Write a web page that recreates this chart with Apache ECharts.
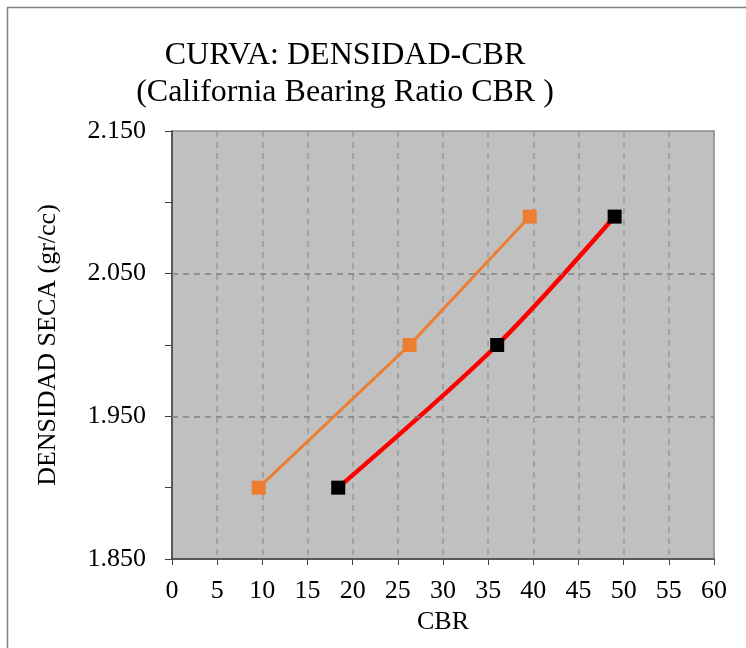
<!DOCTYPE html>
<html>
<head>
<meta charset="utf-8">
<script src="https://cdn.jsdelivr.net/npm/echarts@6/dist/echarts.min.js"></script>
<style>html,body{margin:0;padding:0;background:#fff;}#c{width:746px;height:648px;}</style>
</head>
<body>
<div id="c"></div>
<script>
const titleLines = ['CURVA: DENSIDAD-CBR', '(California Bearing Ratio CBR )'];
const xName = 'CBR';
const yName = 'DENSIDAD SECA (gr/cc)';
const xTickLabels = ['0','5','10','15','20','25','30','35','40','45','50','55','60'];
const yTickLabels = ['1.850','1.950','2.050','2.150'];
const yGridValues = [1.95, 2.05];
const orangeCBR = [9.6, 26.3, 39.6];
const orangeDens = [1.900, 2.000, 2.090];
const blackCBR = [18.4, 36.0, 49.0];
const blackDens = [1.900, 2.000, 2.090];

const font = 'Liberation Serif, Times New Roman, serif';
const chart = echarts.init(document.getElementById('c'));
chart.setOption({
  animation: false,
  backgroundColor: '#ffffff',
  title: {
    text: titleLines.join('\n'),
    left: 340, top: 32, textAlign: 'center',
    textStyle: {fontFamily: font, fontSize: 32, fontWeight: 'normal', color: '#000', lineHeight: 37}
  },
  graphic: [{
    type: 'rect', silent: true, z: -1,
    shape: {x: 7.5, y: 7.5, width: 800, height: 800},
    style: {fill: 'none', stroke: '#7f7f7f', lineWidth: 1.5}
  }],
  grid: {left: 172, right: 32, top: 131, bottom: 89, show: true, backgroundColor: '#c0c0c0', borderColor: '#8c8c8c', borderWidth: 1.5},
  xAxis: {
    type: 'value', min: 0, max: 60, interval: 5,
    name: xName, nameLocation: 'middle', nameGap: 48,
    nameTextStyle: {fontFamily: font, fontSize: 26, color: '#000'},
    axisLine: {show: true, onZero: false, lineStyle: {color: '#404040', width: 1.5}},
    axisTick: {show: true, length: 6, lineStyle: {color: '#404040'}},
    axisLabel: {fontFamily: font, fontSize: 26, color: '#000', margin: 19,
      formatter: v => xTickLabels[Math.round(v/5)]},
    splitLine: {show: true, lineStyle: {color: '#999999', type: [6, 5], width: 1.5}}
  },
  yAxis: {
    type: 'value', min: 1.85, max: 2.15, interval: 0.05,
    name: yName, nameLocation: 'middle', nameGap: 111,
    nameTextStyle: {fontFamily: font, fontSize: 26, color: '#000'},
    axisLine: {show: true, onZero: false, lineStyle: {color: '#404040', width: 1.5}},
    axisTick: {show: true, length: 7, lineStyle: {color: '#404040'}},
    axisLabel: {fontFamily: font, fontSize: 26, color: '#000', margin: 26,
      formatter: v => { const s = v.toFixed(3); return yTickLabels.includes(s) ? s : ''; }},
    splitLine: {show: false}
  },
  series: [
    {
      type: 'line', name: 'orange',
      data: orangeCBR.map((x, i) => [x, orangeDens[i]]),
      symbol: 'rect', symbolSize: 14,
      lineStyle: {color: '#ED7D31', width: 3},
      itemStyle: {color: '#ED7D31'},
      markLine: {
        silent: true, symbol: 'none', label: {show: false},
        lineStyle: {color: '#808080', type: [6, 5], width: 1.5},
        data: yGridValues.map(v => ({yAxis: v}))
      },
      z: 3
    },
    {
      type: 'line', name: 'black',
      data: blackCBR.map((x, i) => [x, blackDens[i]]),
      smooth: 0.3,
      symbol: 'rect', symbolSize: 14,
      lineStyle: {color: '#FF0000', width: 4.5},
      itemStyle: {color: '#000000'},
      z: 4
    }
  ]
});
</script>
</body>
</html>
